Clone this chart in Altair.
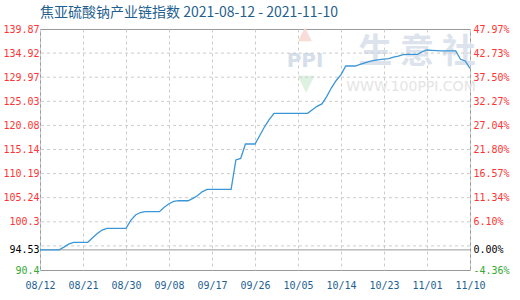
import altair as alt
import pandas as pd

# ---- data -------------------------------------------------------------
title_text = "焦亚硫酸钠产业链指数 2021-08-12 - 2021-11-10"

day_index = list(range(91))  # 2021-08-12 .. 2021-11-10, one value per day
index_values = [
    94.53, 94.53, 94.53, 94.53, 94.53, 95.10, 95.70, 96.09, 96.09, 96.09,
    96.09, 97.00, 97.90, 98.60, 98.96, 98.96, 98.96, 98.96, 98.96, 100.60,
    101.70, 102.20, 102.37, 102.37, 102.37, 102.37, 103.30, 104.00, 104.50, 104.62,
    104.62, 104.62, 105.10, 105.70, 106.50, 106.96, 106.96, 106.96, 106.96, 106.96,
    106.96, 112.98, 113.30, 116.26, 116.26, 116.26, 118.00, 119.80, 121.30, 122.56,
    122.56, 122.56, 122.56, 122.56, 122.56, 122.56, 122.56, 123.30, 124.00, 124.50,
    126.00, 127.80, 129.30, 130.50, 132.27, 132.27, 132.27, 132.60, 132.90, 133.20,
    133.45, 133.60, 133.70, 133.80, 134.10, 134.30, 134.60, 134.67, 134.67, 134.67,
    135.20, 135.56, 135.50, 135.45, 135.40, 135.40, 135.40, 135.40, 133.65, 133.30,
    131.80,
]

x_tick_days = [0, 9, 18, 27, 36, 45, 54, 63, 72, 81, 90]
x_tick_labels = ["08/12", "08/21", "08/30", "09/08", "09/17", "09/26",
                 "10/05", "10/14", "10/23", "11/01", "11/10"]

left_ticks = [139.87, 134.92, 129.97, 125.03, 120.08, 115.14, 110.19,
              105.24, 100.3, 94.53, 90.4]
left_labels = ["139.87", "134.92", "129.97", "125.03", "120.08", "115.14",
               "110.19", "105.24", "100.3", "94.53", "90.4"]
right_labels = ["47.97%", "42.73%", "37.50%", "32.27%", "27.04%", "21.80%",
                "16.57%", "11.34%", "6.10%", "0.00%", "-4.36%"]
base_value = 94.53
y_min, y_max = 90.4, 139.87

# ---- helpers ------------------------------------------------------------
def lookup_expr(vals, labs):
    expr = "''"
    for v, l in reversed(list(zip(vals, labs))):
        expr = f"datum.value == {v} ? '{l}' : ({expr})"
    return expr

grid_vals = [y_min + i * (y_max - y_min) / 10 for i in range(1, 10)]

df = pd.DataFrame({"day": day_index, "value": index_values})
yscale = alt.Scale(domain=[y_min, y_max], nice=False, zero=False)
xscale = alt.Scale(domain=[0, 90], nice=False, zero=False)

label_color_cond = {
    "condition": [
        {"test": f"datum.value == {base_value}", "value": "#000000"},
        {"test": f"datum.value == {y_min}", "value": "#33aa33"},
    ],
    "value": "#ff3333",
}
mono = "DejaVu Sans Mono"

# ---- watermark ------------------------------------------------------------
wm1 = alt.Chart(pd.DataFrame({"t": ["生 意 社"]})).mark_text(
    font="Noto Sans CJK SC", fontSize=34, fontWeight="bold", color="#dde3ed"
).encode(text="t:N", x=alt.value(377), y=alt.value(24))
wm2 = alt.Chart(pd.DataFrame({"t": ["WWW.100PPI.COM"]})).mark_text(
    font="DejaVu Sans", fontSize=14, color="#e4e4e4"
).encode(text="t:N", x=alt.value(371), y=alt.value(58))
wm3 = alt.Chart(pd.DataFrame({"t": ["▲"]})).mark_text(
    font="DejaVu Sans", fontSize=18, color="#f7dcd8"
).encode(text="t:N", x=alt.value(265), y=alt.value(5))
wm4 = alt.Chart(pd.DataFrame({"t": ["▼"]})).mark_text(
    font="DejaVu Sans", fontSize=22, color="#dff2e2"
).encode(text="t:N", x=alt.value(266), y=alt.value(54))
wm5 = alt.Chart(pd.DataFrame({"t": ["PPI"]})).mark_text(
    font="DejaVu Sans", fontSize=20, fontWeight="bold", color="#d6deea"
).encode(text="t:N", x=alt.value(265), y=alt.value(32))

# ---- chart layers ----------------------------------------------------------
hgrid = alt.Chart(pd.DataFrame({"g": grid_vals})).mark_rule(
    color="#cccccc", strokeDash=[3, 3], strokeWidth=1
).encode(y=alt.Y("g:Q", scale=yscale, axis=None))

baseline = alt.Chart(pd.DataFrame({"b": [base_value]})).mark_rule(
    color="#999999", strokeWidth=1
).encode(y=alt.Y("b:Q", scale=yscale, axis=None))

line = alt.Chart(df).mark_line(color="#3a96d6", strokeWidth=1.3).encode(
    x=alt.X("day:Q", scale=xscale, axis=alt.Axis(
        values=x_tick_days, labelExpr=lookup_expr(x_tick_days, x_tick_labels),
        grid=True, gridDash=[3, 3], gridColor="#cccccc", domain=False, ticks=False,
        labelFont=mono, labelFontSize=10, labelColor="#1e5f94", labelPadding=10,
        labelFlush=False, labelOverlap=False, title=None)),
    y=alt.Y("value:Q", scale=yscale, axis=alt.Axis(
        orient="left", values=left_ticks, labelExpr=lookup_expr(left_ticks, left_labels),
        grid=False, domain=False, ticks=False, labelColor=label_color_cond,
        labelFont=mono, labelFontSize=10, labelPadding=1, labelOverlap=False,
        labelFlush=False, title=None)),
)

right = alt.Chart(df).mark_line(opacity=0).encode(
    x=alt.X("day:Q", scale=xscale, axis=None),
    y=alt.Y("value:Q", scale=yscale, axis=alt.Axis(
        orient="right", values=left_ticks, labelExpr=lookup_expr(left_ticks, right_labels),
        grid=False, domain=False, ticks=False, labelColor=label_color_cond,
        labelFont=mono, labelFontSize=10, labelPadding=3, labelOverlap=False,
        labelFlush=False, title=None)),
)

chart = alt.layer(wm3, wm4, wm5, wm1, wm2, hgrid, baseline, line, right).resolve_scale(
    x="independent", y="independent"
).properties(
    width=430, height=241,
    title=alt.TitleParams(title_text, anchor="start", frame="group", font="Noto Sans CJK SC",
                          fontSize=14, fontWeight="normal", color="#1f5f8f", offset=4),
    autosize=alt.AutoSizeParams(type="none"),
    padding={"left": 40, "top": 29, "right": 50, "bottom": 30},
    background="#ffffff",
).configure_view(stroke="#999999", strokeWidth=1)

chart.save("out.html", embed_options={"renderer": "svg", "actions": False})
